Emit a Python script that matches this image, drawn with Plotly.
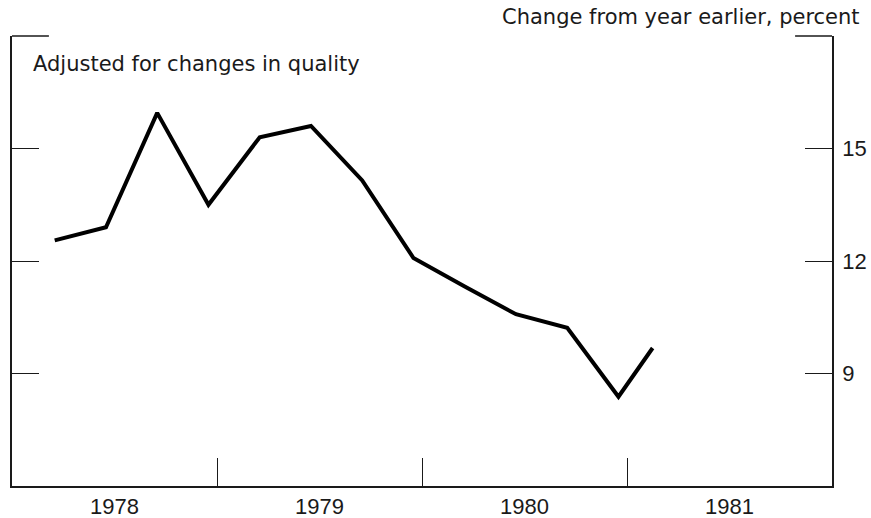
import plotly.graph_objects as go

# Quarterly data plotted at the last month of each quarter (fractional year)
dates = [1978 + 2.5/12, 1978 + 5.5/12, 1978 + 8.5/12, 1978 + 11.5/12,
         1979 + 2.5/12, 1979 + 5.5/12, 1979 + 8.5/12, 1979 + 11.5/12,
         1980 + 2.5/12, 1980 + 5.5/12, 1980 + 8.5/12, 1980 + 11.5/12,
         1981 + 1.5/12]
values = [12.55, 12.9, 15.95, 13.5, 15.3, 15.6, 14.15, 12.08,
          11.32, 10.58, 10.22, 8.38, 9.68]

year_labels = ["1978", "1979", "1980", "1981"]
year_label_pos = [1978.5, 1979.5, 1980.5, 1981.5]
year_boundaries = [1979, 1980, 1981]
y_ticks = [9, 12, 15]

TEXT_FONT = "DejaVu Sans, Liberation Sans, sans-serif"
TICK_FONT = "Liberation Sans, Arial, sans-serif"
INK = "#1a1a1a"

fig = go.Figure()
fig.add_trace(go.Scatter(x=dates, y=values, mode="lines",
                         line=dict(color="black", width=4),
                         showlegend=False, hoverinfo="skip"))

fig.update_layout(
    width=871, height=518,
    margin=dict(l=12, r=39, t=36, b=32, autoexpand=False),
    paper_bgcolor="white", plot_bgcolor="white",
    font=dict(family=TICK_FONT, size=22, color=INK),
    xaxis=dict(range=[1978, 1982], showgrid=False, zeroline=False,
               showline=True, linecolor=INK, linewidth=1.5,
               tickmode="array", tickvals=year_label_pos, ticktext=year_labels,
               ticks="", tickfont=dict(family=TICK_FONT, size=22, color=INK),
               automargin=False,
               minor=dict(tickmode="array", tickvals=year_boundaries,
                          ticks="inside", ticklen=28, tickcolor=INK, tickwidth=1)),
    yaxis=dict(range=[6, 18], side="right", showgrid=False, zeroline=False,
               showline=True, linecolor=INK, linewidth=1.5, mirror="ticks",
               tickmode="array", tickvals=y_ticks, ticktext=[str(v) for v in y_ticks],
               ticks="inside", ticklen=27, tickcolor=INK, tickwidth=1,
               ticklabelstandoff=4, automargin=False,
               tickfont=dict(family=TICK_FONT, size=22, color=INK)),
    shapes=[
        dict(type="line", xref="paper", yref="paper", x0=0, x1=0.045, y0=1, y1=1,
             line=dict(color=INK, width=1.5)),
        dict(type="line", xref="paper", yref="paper", x0=0.955, x1=1, y0=1, y1=1,
             line=dict(color=INK, width=1.5)),
    ],
    annotations=[
        dict(text="Adjusted for changes in quality", xref="paper", yref="paper",
             x=0.0235, y=0.9367, xanchor="left", yanchor="middle", showarrow=False,
             font=dict(family=TEXT_FONT, size=21, color=INK)),
        dict(text="Change from year earlier, percent", xref="paper", yref="paper",
             x=1.0366, y=1.0422, xanchor="right", yanchor="middle",
             showarrow=False, font=dict(family=TEXT_FONT, size=21, color=INK)),
    ],
)

fig.write_html("out.html", config={"displayModeBar": False},
               post_script="document.body.style.margin='0';")
